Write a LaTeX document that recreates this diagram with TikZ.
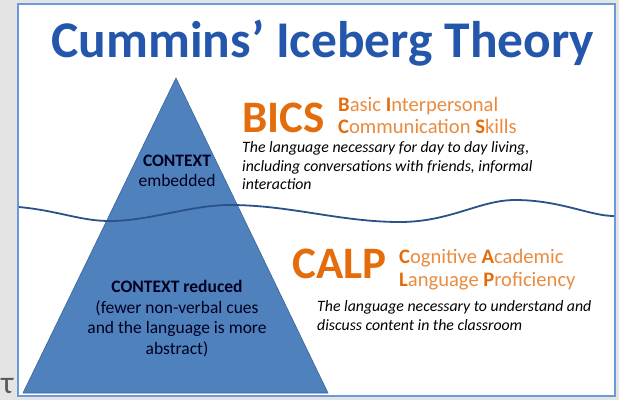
\documentclass[tikz,border=0pt]{standalone}
\usepackage{fontspec}
\setmainfont{Carlito}
\definecolor{pagegrey}{HTML}{E4E4E4}
\definecolor{frameblue}{HTML}{6A9ADB}
\definecolor{headblue}{HTML}{2457AB}
\definecolor{iceblue}{HTML}{4F81BD}
\definecolor{iceedge}{HTML}{3B6498}
\definecolor{sealine}{HTML}{2A5189}
\definecolor{bicsorange}{HTML}{E46C0A}
\colorlet{softorange}{bicsorange!78!white}
\colorlet{inkdark}{black!88!blue}
\newcommand\bigini[1]{{\bfseries\color{bicsorange}#1}}
\tikzset{berg/mid/.style={inner sep=0pt, anchor=base, text=inkdark, font=\fontsize{17.5}{20}\selectfont}}
\tikzset{berg/acro/.style={inner sep=0pt, anchor=base west, text=bicsorange, font=\fontsize{45}{50}\selectfont\bfseries}}
\tikzset{berg/sub/.style={inner sep=0pt, anchor=base west, text=softorange, font=\fontsize{20.6}{22}\selectfont}}
\tikzset{berg/desc/.style={inner sep=0pt, anchor=base west, text=black, font=\fontsize{15.8}{18}\selectfont\itshape}}

\begin{document}
\begin{tikzpicture}[x=1pt, y=-1pt]
  \useasboundingbox (0,0) rectangle (619,400);
  \fill[pagegrey] (0,0) rectangle (619,400);
  \filldraw[fill=white, draw=frameblue, line width=1.5pt] (18,4) rectangle (615,396);
\filldraw[fill=iceblue, draw=iceedge, line width=0.6pt] (176,78) -- (328,393) -- (23,393) -- cycle;
\draw[sealine, line width=1.8pt] (19,207) .. controls (60,211) and (80,221) .. (110,221) .. controls (150,221) and (190,205) .. (230,205) .. controls (290,205) and (340,222) .. (400,222) .. controls (450,222) and (480,200) .. (515,200) .. controls (560,200) and (590,216) .. (614,216);
\node[inner sep=0pt, anchor=base, text=headblue, font=\fontsize{51.5}{56}\selectfont\bfseries] (title) at (323,57) {Cummins’ Iceberg Theory};
\node[berg/mid, font=\fontsize{17.5}{20}\selectfont\bfseries] (ctxtop) at (177,166) {CONTEXT};
\node[berg/mid] (embed) at (177,186) {embedded};
\node[berg/mid, font=\fontsize{17.5}{20}\selectfont\bfseries] (ctxlow) at (177,292) {CONTEXT reduced};
\node[berg/mid] (fewer) at (177,313) {(fewer non-verbal cues};
\node[berg/mid] (andlang) at (177,333) {and the language is more};
\node[berg/mid] (abstr) at (177,354) {abstract)};
\node[berg/acro] (bics) at (242,132) {BICS};
\node[berg/sub] (bicsa) at (338,111) {\bigini{B}asic \bigini{I}nterpersonal};
\node[berg/sub] (bicsb) at (338,133) {\bigini{C}ommunication \bigini{S}kills};
\node[berg/desc] (bicsd1) at (242,152) {The language necessary for day to day living,};
\node[berg/desc] (bicsd2) at (242,171) {including conversations with friends, informal};
\node[berg/desc] (bicsd3) at (242,189) {interaction};
\node[berg/acro] (calp) at (292,278) {CALP};
\node[berg/sub] (calpa) at (399,263) {\bigini{C}ognitive \bigini{A}cademic};
\node[berg/sub] (calpb) at (399,286) {\bigini{L}anguage \bigini{P}roficiency};
\node[berg/desc] (calpd1) at (317,311) {The language necessary to understand and};
\node[berg/desc] (calpd2) at (317,330) {discuss content in the classroom};
\node[inner sep=0pt, anchor=base west, text=black!65, font=\fontsize{32}{34}\selectfont] (cut) at (1,393) {τ};
\end{tikzpicture}
\end{document}
